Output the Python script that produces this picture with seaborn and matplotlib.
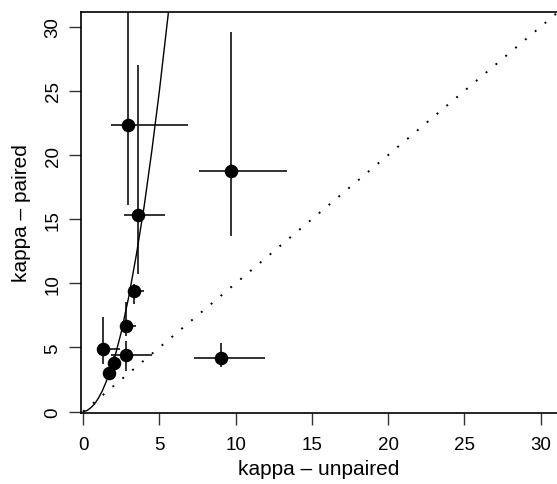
import numpy as np
import pandas as pd
import matplotlib
matplotlib.use("Agg")
import matplotlib.pyplot as plt
import seaborn as sns

# ---- data ----
kappa_unpaired = [2.94, 3.62, 9.67, 3.31, 2.81, 2.81, 1.30, 2.04, 1.72, 9.03]
kappa_paired   = [22.36, 15.35, 18.75, 9.42, 6.70, 4.41, 4.88, 3.79, 3.01, 4.20]
x_low  = [1.82, 2.70, 7.59, 2.94, 2.50, 1.85, 0.91, 1.75, 1.45, 7.24]
x_high = [6.87, 5.34, 13.36, 3.97, 3.47, 4.51, 2.39, 2.35, 2.00, 11.94]
y_low  = [16.13, 10.70, 13.66, 8.38, 5.90, 3.19, 3.71, 3.30, 2.60, 3.45]
y_high = [36.00, 27.00, 29.60, 9.95, 8.52, 5.50, 7.35, 4.30, 3.40, 5.32]

curve_x = [0.0, 0.25, 0.5, 0.75, 1.0, 1.25, 1.5, 2.0, 2.5, 3.0, 3.5, 4.0, 4.5, 5.0, 5.6, 5.8]
curve_y = [0.0, 0.08, 0.3, 0.6, 1.05, 1.6, 2.3, 3.9, 6.2, 9.0, 12.3, 16.0, 20.3, 25.0, 31.2, 33.6]

diag = [0, 32]
x_ticks = [0, 5, 10, 15, 20, 25, 30]
y_ticks = [0, 5, 10, 15, 20, 25, 30]

df = pd.DataFrame({"x": kappa_unpaired, "y": kappa_paired,
                   "xl": x_low, "xh": x_high, "yl": y_low, "yh": y_high})
curve = pd.DataFrame({"x": curve_x, "y": curve_y})

sns.set_style("ticks")
plt.rcParams["font.family"] = ["Liberation Sans", "DejaVu Sans"]
plt.rcParams["text.color"] = "black"
plt.rcParams["axes.labelcolor"] = "black"
plt.rcParams["xtick.color"] = "black"
plt.rcParams["ytick.color"] = "black"

fig = plt.figure(figsize=(5.57, 4.85), dpi=100)
ax = fig.add_axes([81 / 557, 1 - 414.3 / 485, 1 - 81 / 557, (414.3 - 12.7) / 485])

# error bars
ax.hlines(df["y"], df["xl"], df["xh"], color="#222222", lw=1.3, zorder=2)
ax.vlines(df["x"], df["yl"], df["yh"], color="#222222", lw=1.3, zorder=2)

# identity dotted line
ax.plot(diag, diag, color="black", lw=1.4, linestyle=(0, (1.0, 5.6)), zorder=1)

# fitted curve
sns.lineplot(data=curve, x="x", y="y", ax=ax, color="black", lw=1.0,
             sort=False, estimator=None, zorder=3)

# points
sns.scatterplot(data=df, x="x", y="y", ax=ax, s=95, color="black",
                edgecolor="black", linewidth=0, zorder=4)

ax.set_xlim(-0.14, 31.07)
ax.set_ylim(-0.13, 31.17)
ax.set_xticks(x_ticks)
ax.set_yticks(y_ticks)
ax.tick_params(axis="both", direction="out", length=8.5, width=1, color="#333333",
               labelsize=13.5, labelcolor="black")
ax.tick_params(axis="x", pad=7.5)
ax.tick_params(axis="y", pad=5.5)
for lab in ax.get_yticklabels():
    lab.set_rotation(90)
    lab.set_va("center")
ax.set_xlabel("kappa \u2013 unpaired", fontsize=15, labelpad=5, color="black")
ax.set_ylabel("kappa \u2013 paired", fontsize=15, labelpad=10, color="black")
for s in ["left", "bottom", "top"]:
    ax.spines[s].set_visible(True)
    ax.spines[s].set_color("black")
    ax.spines[s].set_linewidth(1.2)
ax.spines["right"].set_visible(False)

fig.savefig("out.png", dpi=100)
